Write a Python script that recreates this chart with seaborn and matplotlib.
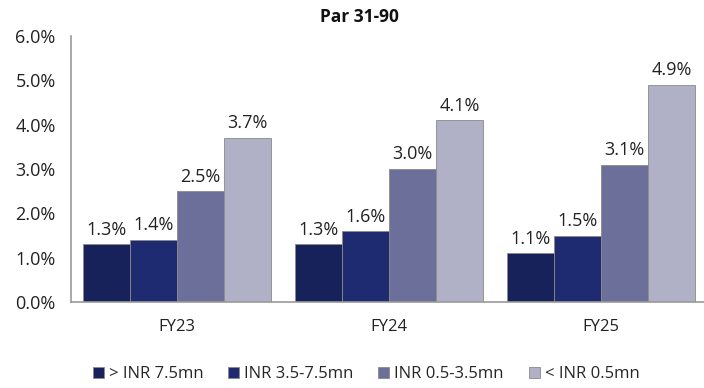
import pandas as pd
import matplotlib.pyplot as plt
import seaborn as sns

sns.set_style("white")
plt.rcParams['font.family'] = ['Open Sans', 'DejaVu Sans']

# Data
years = ["FY23", "FY24", "FY25"]
buckets = ["> INR 7.5mn", "INR 3.5-7.5mn", "INR 0.5-3.5mn", "< INR 0.5mn"]
gt_7_5 = [1.3, 1.3, 1.1]
mid_3_5_7_5 = [1.4, 1.6, 1.5]
mid_0_5_3_5 = [2.5, 3.0, 3.1]
lt_0_5 = [3.7, 4.1, 4.9]
colors = ["#17225b", "#1f2b70", "#6c6f99", "#b0b1c6"]

rows = []
for b, vals in zip(buckets, [gt_7_5, mid_3_5_7_5, mid_0_5_3_5, lt_0_5]):
    for y, v in zip(years, vals):
        rows.append({"year": y, "bucket": b, "value": v})
df = pd.DataFrame(rows)

fig = plt.figure(figsize=(7.04, 3.88), dpi=100)
ax = fig.add_axes([71 / 704, 86 / 388, 636 / 704, 266 / 388])

sns.barplot(data=df, x="year", y="value", hue="bucket", hue_order=buckets,
            palette=colors, saturation=1, width=0.89, gap=0,
            edgecolor="#8a8a8a", linewidth=0.6, ax=ax, legend=True)

for c in ax.containers:
    ax.bar_label(c, fmt="%.1f%%", padding=4, fontsize=13, color="#222222")

ax.set_ylim(0, 6)
ax.set_xlim(-0.5, 2.5)
ax.set_yticks([0, 1, 2, 3, 4, 5, 6])
ax.set_yticklabels([f"{t:.1f}%" for t in range(7)])
ax.set_xlabel("")
ax.set_ylabel("")
ax.tick_params(axis="y", labelsize=13, colors="#222222", length=0, pad=11)
ax.tick_params(axis="x", which="major", labelsize=12, colors="#222222",
               length=0, pad=12)
ax.set_xticks([-0.5, 0.5, 1.5, 2.5], minor=True)
ax.tick_params(axis="x", which="minor", length=5, color="#999999", width=1)

sns.despine(ax=ax, top=True, right=True)
for s in ["left", "bottom"]:
    ax.spines[s].set_color("#999999")
    ax.spines[s].set_linewidth(1.2)

fig.text(359 / 704, 371 / 388, "Par 31-90", fontsize=12.5, fontweight="bold",
         ha="center", va="center", color="#111111")

handles, labels = ax.get_legend_handles_labels()
ax.get_legend().remove()
fig.legend(handles, labels, loc="center", bbox_to_anchor=(366 / 704, 14 / 388),
           ncol=4, frameon=False, fontsize=12, handlelength=0.65,
           handleheight=0.65, handletextpad=0.3, columnspacing=1.5)

plt.savefig("out.png", dpi=100)
